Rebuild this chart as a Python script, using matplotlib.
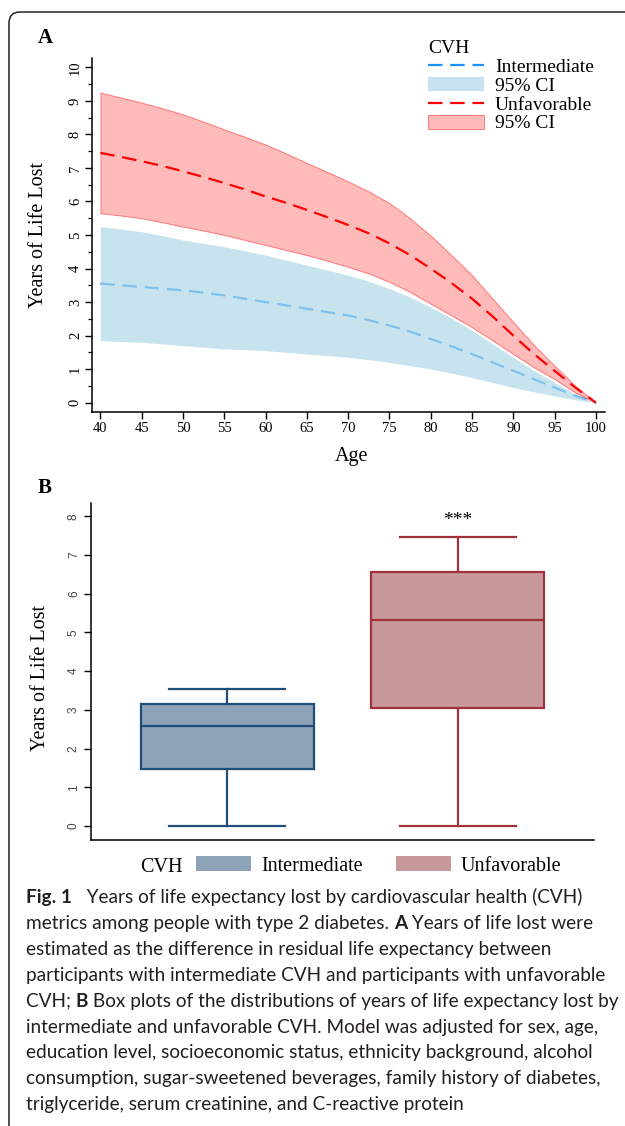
import matplotlib as mpl
mpl.use('Agg')
import matplotlib.pyplot as plt
from matplotlib.lines import Line2D
from matplotlib.patches import Patch, FancyBboxPatch
import numpy as np

SERIF = 'Liberation Serif'
SANS = 'Lato'

# Panel A: years of life lost by age (read every 2.5 years)
ages = [40, 42.5, 45, 47.5, 50, 52.5, 55, 57.5, 60, 62.5, 65, 67.5, 70,
        72.5, 75, 77.5, 80, 82.5, 85, 87.5, 90, 92.5, 95, 97.5, 100]
unfav_hi = [9.25, 9.1, 8.95, 8.78, 8.6, 8.38, 8.15, 7.93, 7.7, 7.43, 7.15, 6.88, 6.6,
            6.3, 5.95, 5.5, 4.98, 4.4, 3.8, 3.1, 2.4, 1.72, 1.1, 0.5, 0.0]
unfav_mean = [7.45, 7.33, 7.2, 7.06, 6.9, 6.73, 6.55, 6.36, 6.15, 5.96, 5.75, 5.53, 5.3,
              5.05, 4.75, 4.4, 4.0, 3.57, 3.1, 2.57, 2.0, 1.45, 0.95, 0.45, 0.0]
unfav_lo = [5.65, 5.58, 5.5, 5.38, 5.25, 5.13, 5.0, 4.85, 4.7, 4.55, 4.4, 4.23, 4.05,
            3.85, 3.6, 3.3, 2.95, 2.6, 2.25, 1.85, 1.45, 1.05, 0.7, 0.3, 0.0]
inter_hi = [5.25, 5.18, 5.1, 4.98, 4.85, 4.75, 4.65, 4.53, 4.4, 4.25, 4.1, 3.95, 3.8,
            3.62, 3.4, 3.15, 2.85, 2.52, 2.15, 1.75, 1.35, 0.95, 0.6, 0.25, 0.0]
inter_mean = [3.55, 3.5, 3.45, 3.4, 3.35, 3.28, 3.2, 3.1, 3.0, 2.9, 2.8, 2.7, 2.6,
              2.46, 2.3, 2.12, 1.9, 1.68, 1.45, 1.2, 0.95, 0.7, 0.45, 0.2, 0.0]
inter_lo = [1.85, 1.82, 1.8, 1.75, 1.7, 1.65, 1.6, 1.58, 1.55, 1.5, 1.45, 1.4, 1.35,
            1.28, 1.2, 1.1, 1.0, 0.88, 0.75, 0.6, 0.45, 0.32, 0.2, 0.08, 0.0]

# Panel B: box plot summaries
groups = ['Intermediate', 'Unfavorable']
whis_lo = [0.0, 0.0]
q1 = [1.48, 3.05]
med = [2.58, 5.32]
q3 = [3.15, 6.57]
whis_hi = [3.55, 7.47]

caption = [
    [('Fig. 1', True), ('   Years of life expectancy lost by cardiovascular health (CVH)', False)],
    [('metrics among people with type 2 diabetes. ', False), ('A', True), (' Years of life lost were', False)],
    [('estimated as the difference in residual life expectancy between', False)],
    [('participants with intermediate CVH and participants with unfavorable', False)],
    [('CVH; ', False), ('B', True), (' Box plots of the distributions of years of life expectancy lost by', False)],
    [('intermediate and unfavorable CVH. Model was adjusted for sex, age,', False)],
    [('education level, socioeconomic status, ethnicity background, alcohol', False)],
    [('consumption, sugar-sweetened beverages, family history of diabetes,', False)],
    [('triglyceride, serum creatinine, and C-reactive protein', False)],
]

W, H = 625, 1126
fig = plt.figure(figsize=(W / 100, H / 100), dpi=100)

# background axes in pixel units for frame and caption
bg = fig.add_axes([0, 0, 1, 1])
bg.set_xlim(0, W)
bg.set_ylim(H, 0)
bg.axis('off')
bg.add_patch(FancyBboxPatch((9, 12), 800, 1400, boxstyle='round,pad=0,rounding_size=11',
                            fill=False, edgecolor='#222222', linewidth=1.1))

def px_axes(left, top, right, bottom):
    return fig.add_axes([left / W, 1 - bottom / H, (right - left) / W, (bottom - top) / H])

# ---------------- Panel A ----------------
ax = px_axes(91.7, 58, 605, 412)
ax.plot(ages, inter_mean, color='#1E90FF', lw=1.6, dashes=(6.5, 3.5), zorder=1)
ax.fill_between(ages, inter_lo, inter_hi, color='lightblue', alpha=0.68, lw=0, zorder=2)
ax.fill_between(ages, unfav_lo, unfav_hi, facecolor=(1, 0, 0, 0.27),
                edgecolor=(1, 0, 0, 0.45), lw=0.7, zorder=3)
ax.plot(ages, unfav_mean, color='red', lw=1.6, dashes=(6.5, 3.5), zorder=4)

ax.set_xlim(38.95, 101.1)
ax.set_ylim(-0.28, 10.28)
ax.set_xticks(range(40, 101, 5))
ax.set_yticks(range(0, 11))
ax.set_yticks(np.arange(0.5, 10, 1), minor=True)
for s in ['top', 'right']:
    ax.spines[s].set_visible(False)
for s in ['left', 'bottom']:
    ax.spines[s].set_linewidth(1.1)
ax.tick_params(axis='both', which='major', length=5, width=1, direction='out', pad=2)
ax.tick_params(axis='y', which='minor', length=3, width=0.9)
for lab in ax.get_xticklabels():
    lab.set_fontfamily(SERIF)
    lab.set_fontsize(10.5)
for lab in ax.get_yticklabels():
    lab.set_fontfamily(SERIF)
    lab.set_fontsize(10.5)
    lab.set_rotation(90)
    lab.set_va('center')
ax.set_ylabel('Years of Life Lost', fontfamily=SERIF, fontsize=14.5)
ax.yaxis.set_label_coords(-0.085, 0.5)
ax.set_xlabel('Age', fontfamily=SERIF, fontsize=14.5)
ax.xaxis.set_label_coords(0.507, -0.099)

handles = [
    Line2D([], [], color='#1E90FF', lw=1.6, dashes=(6.5, 3.5)),
    Patch(facecolor='lightblue', alpha=0.68, lw=0),
    Line2D([], [], color='red', lw=1.6, dashes=(6.5, 3.5)),
    Patch(facecolor=(1, 0, 0, 0.27), edgecolor=(1, 0, 0, 0.45), lw=0.7),
]
leg = ax.legend(handles, ['Intermediate', '95% CI', 'Unfavorable', '95% CI'],
                title='CVH', alignment='left', frameon=False,
                loc='upper left', bbox_to_anchor=(428 / W, 1 - 40 / H),
                bbox_transform=fig.transFigure, borderpad=0, borderaxespad=0,
                handlelength=2.9, handleheight=0.75, handletextpad=0.55,
                labelspacing=0.05, prop={'family': SERIF, 'size': 14})
leg.get_title().set_fontfamily(SERIF)
leg.get_title().set_fontsize(14)

bg.text(45, 38, 'A', fontfamily=SERIF, fontweight='bold', fontsize=15, ha='center', va='center')

# ---------------- Panel B ----------------
bx = px_axes(91, 502.7, 594, 840)
fills = ['#8FA3B8', '#C8999B']
edges = ['#1F4E79', '#A0323C']
stats = [dict(label=g, whislo=a, q1=b, med=c, q3=d, whishi=e)
         for g, a, b, c, d, e in zip(groups, whis_lo, q1, med, q3, whis_hi)]
bp = bx.bxp(stats, positions=[1, 2], widths=0.75, showfliers=False, patch_artist=True)
for i in range(2):
    bp['boxes'][i].set(facecolor=fills[i], edgecolor=edges[i], linewidth=1.6)
    bp['medians'][i].set(color=edges[i], linewidth=1.6)
    for k in (2 * i, 2 * i + 1):
        bp['whiskers'][k].set(color=edges[i], linewidth=1.6)
        bp['caps'][k].set(color=edges[i], linewidth=1.6)
        bp['caps'][k].set_xdata([i + 1 - 0.25, i + 1 + 0.25])
bx.text(2, 7.9, '***', ha='center', va='center', fontfamily=SERIF, fontsize=14)

bx.set_xlim(0.41, 2.59)
bx.set_ylim(-0.36, 8.35)
bx.set_xticks([])
bx.set_yticks(range(0, 9))
for s in ['top', 'right']:
    bx.spines[s].set_visible(False)
for s in ['left', 'bottom']:
    bx.spines[s].set_linewidth(1.1)
bx.tick_params(axis='y', length=5, width=1, pad=3, labelsize=8.5, labelcolor='#444444')
for lab in bx.get_yticklabels():
    lab.set_fontfamily('Liberation Sans')
    lab.set_rotation(90)
    lab.set_va('center')
bx.set_ylabel('Years of Life Lost', fontfamily=SERIF, fontsize=14.5)
bx.yaxis.set_label_coords(-0.0815, 0.48)

bg.text(45, 488, 'B', fontfamily=SERIF, fontweight='bold', fontsize=15, ha='center', va='center')
bg.text(161, 867, 'CVH', fontfamily=SERIF, fontsize=14.5, ha='center', va='center')
bhandles = [Patch(facecolor=fills[0], lw=0), Patch(facecolor=fills[1], lw=0)]
fig.legend(bhandles, groups, ncol=2, frameon=False, loc='center left',
           bbox_to_anchor=(196 / W, 1 - 866 / H), borderpad=0, borderaxespad=0,
           handlelength=2.75, handleheight=0.75, handletextpad=0.48, columnspacing=1.65,
           prop={'family': SERIF, 'size': 14.5})

# ---------------- Caption ----------------
renderer = fig.canvas.get_renderer()
cap_size = 13.7
for i, line in enumerate(caption):
    x = 26
    y = 903 + i * 25.9
    for seg, bold in line:
        t = bg.text(x, y, seg, fontfamily=SANS, fontsize=cap_size, color='#231F20',
                    fontweight='bold' if bold else 'normal', va='baseline', ha='left')
        x += t.get_window_extent(renderer).width

fig.savefig('out.png', dpi=100)
